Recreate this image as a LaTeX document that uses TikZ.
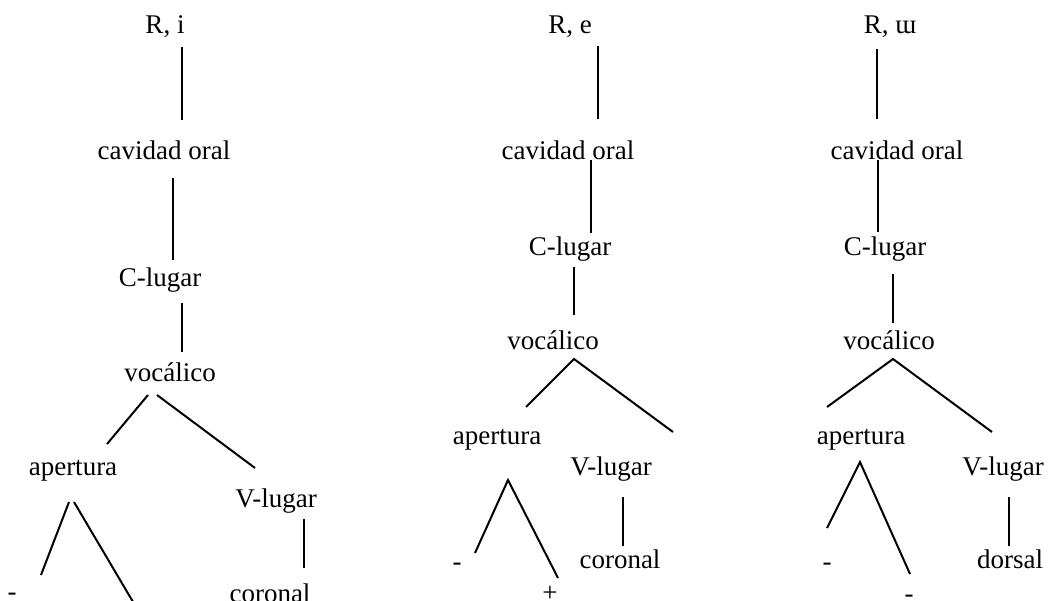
\documentclass[tikz,border=0pt]{standalone}
\usepackage{fontspec}
\setmainfont{Liberation Serif}
\begin{document}
\begin{tikzpicture}[x=1pt,y=-1pt,
  lbl/.style={anchor=base,inner sep=0pt,font=\fontsize{27}{32}\selectfont},
  br/.style={line width=2pt,line join=miter}]
\path[use as bounding box] (0,0) rectangle (1048,600);
\clip (0,0) rectangle (1048,600);
% ---------- tree 1 ----------
\node[lbl] (r1) at (165,33) {R, i};
\node[lbl] (co1) at (164,159) {cavidad oral};
\node[lbl] (cl1) at (160,286) {C-lugar};
\node[lbl] (vo1) at (170,381) {vocálico};
\node[lbl] (ap1) at (73,475) {apertura};
\node[lbl] (vl1) at (276,507) {V-lugar};
\node[lbl] (m1) at (12,600) {-};
\node[lbl] (cr1) at (270,602) {coronal};
\coordinate (t1a) at (181.7,47);  \coordinate (t1b) at (181.7,120);
\coordinate (t1c) at (173,178);   \coordinate (t1d) at (173,260);
\coordinate (t1e) at (182,303);   \coordinate (t1f) at (182,352);
\coordinate (t1g) at (148,395);   \coordinate (t1h) at (107,444);
\coordinate (t1i) at (157,395);   \coordinate (t1j) at (255,468);
\coordinate (t1k) at (69,502);    \coordinate (t1l) at (41,575);
\coordinate (t1m) at (74,502);    \coordinate (t1n) at (139,612);
\coordinate (t1o) at (304,519);   \coordinate (t1p) at (304,568);
\draw[br] (t1a) -- (t1b);
\draw[br] (t1c) -- (t1d);
\draw[br] (t1e) -- (t1f);
\draw[br] (t1g) -- (t1h);
\draw[br] (t1i) -- (t1j);
\draw[br] (t1k) -- (t1l);
\draw[br] (t1m) -- (t1n);
\draw[br] (t1o) -- (t1p);
% ---------- tree 2 ----------
\node[lbl] (r2) at (570,33) {R, e};
\node[lbl] (co2) at (568,159) {cavidad oral};
\node[lbl] (cl2) at (570,255) {C-lugar};
\node[lbl] (vo2) at (553,349) {vocálico};
\node[lbl] (ap2) at (497,444) {apertura};
\node[lbl] (vl2) at (611,475) {V-lugar};
\node[lbl] (m2) at (457,570) {-};
\node[lbl] (p2) at (550,601) {+};
\node[lbl] (cr2) at (620,568) {coronal};
\coordinate (t2a) at (598,46);   \coordinate (t2b) at (598,119);
\coordinate (t2c) at (591,160);  \coordinate (t2d) at (591,233);
\coordinate (t2e) at (574,267);  \coordinate (t2f) at (574,315);
\coordinate (t2g) at (526,407);  \coordinate (t2h) at (574,359);  \coordinate (t2i) at (673,432);
\coordinate (t2j) at (475,553);  \coordinate (t2k) at (508,480);  \coordinate (t2l) at (558,578);
\coordinate (t2m) at (623,497);  \coordinate (t2n) at (623,546);
\draw[br] (t2a) -- (t2b);
\draw[br] (t2c) -- (t2d);
\draw[br] (t2e) -- (t2f);
\draw[br] (t2g) -- (t2h) -- (t2i);
\draw[br] (t2j) -- (t2k) -- (t2l);
\draw[br] (t2m) -- (t2n);
% ---------- tree 3 ----------
\node[lbl] (r3) at (890,33) {R, ɯ};
\node[lbl] (co3) at (897,159) {cavidad oral};
\node[lbl] (cl3) at (885,255) {C-lugar};
\node[lbl] (vo3) at (889,349) {vocálico};
\node[lbl] (ap3) at (861,444) {apertura};
\node[lbl] (vl3) at (1003,475) {V-lugar};
\node[lbl] (m3) at (827,570) {-};
\node[lbl] (n3) at (909,602) {-};
\node[lbl] (ds3) at (1010,568) {dorsal};
\coordinate (t3a) at (877,49);   \coordinate (t3b) at (877,119);
\coordinate (t3c) at (878,160);  \coordinate (t3d) at (878,232);
\coordinate (t3e) at (893,274);  \coordinate (t3f) at (893,323);
\coordinate (t3g) at (827,407);  \coordinate (t3h) at (893,359);  \coordinate (t3i) at (992,432);
\coordinate (t3j) at (827,528);  \coordinate (t3k) at (860,462);  \coordinate (t3l) at (910,574);
\coordinate (t3m) at (1009,497); \coordinate (t3n) at (1009,546);
\draw[br] (t3a) -- (t3b);
\draw[br] (t3c) -- (t3d);
\draw[br] (t3e) -- (t3f);
\draw[br] (t3g) -- (t3h) -- (t3i);
\draw[br] (t3j) -- (t3k) -- (t3l);
\draw[br] (t3m) -- (t3n);
\end{tikzpicture}
\end{document}
